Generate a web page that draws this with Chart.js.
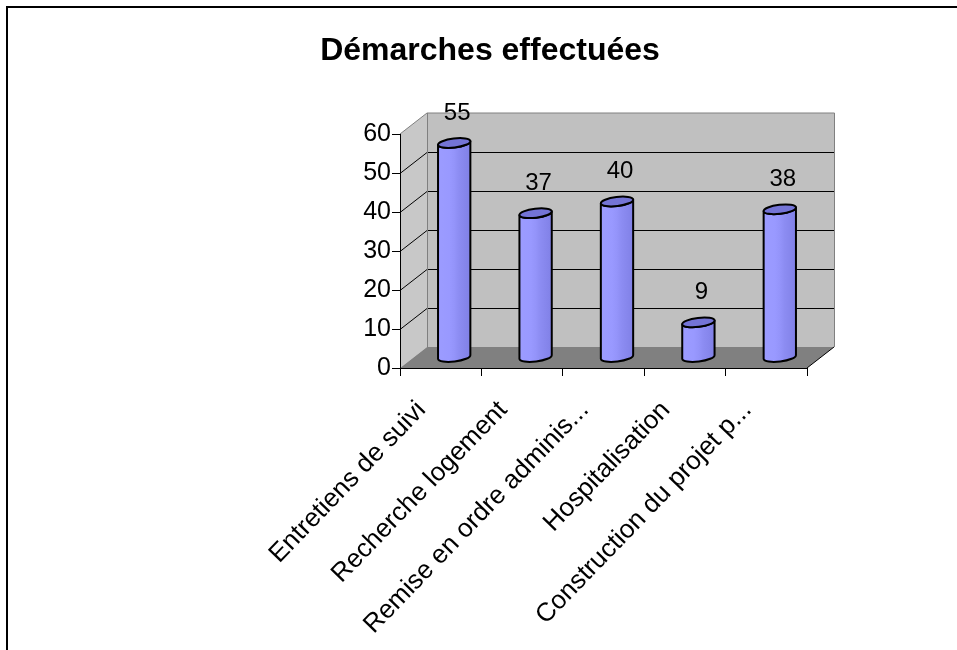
<!DOCTYPE html>
<html>
<head>
<meta charset="utf-8">
<script src="https://cdn.jsdelivr.net/npm/chart.js@4.4.0/dist/chart.umd.min.js"></script>
<style>
  html, body { margin: 0; padding: 0; background: #ffffff; }
  canvas { display: block; }
</style>
</head>
<body>
<canvas id="chart" width="957" height="650"></canvas>
<script>
// Data
const categories = [
  "Entretiens de suivi",
  "Recherche logement",
  "Remise en ordre adminis...",
  "Hospitalisation",
  "Construction du projet p..."
];
const demarches = [55, 37, 40, 9, 38];
const yTicks = [0, 10, 20, 30, 40, 50, 60];
const chartTitle = "Démarches effectuées";

// Oblique depth of the 3D box (pixels)
const DX = 27, DY = -21;
const FONT = "'Liberation Sans', Arial, sans-serif";

function poly(ctx, pts) {
  ctx.beginPath();
  ctx.moveTo(pts[0][0], pts[0][1]);
  for (let i = 1; i < pts.length; i++) ctx.lineTo(pts[i][0], pts[i][1]);
  ctx.closePath();
}

const scene3d = {
  id: 'scene3d',
  beforeDraw(chart) {
    const { ctx, chartArea: a, scales: { y } } = chart;
    const L = a.left, R = a.right;
    const y0 = y.getPixelForValue(y.min);
    const yT = y.getPixelForValue(y.max);
    ctx.save();

    // outer frame
    ctx.strokeStyle = '#000';
    ctx.lineWidth = 2;
    ctx.beginPath();
    ctx.moveTo(7, 700); ctx.lineTo(7, 7); ctx.lineTo(1000, 7);
    ctx.stroke();

    // back wall
    ctx.fillStyle = '#C0C0C0';
    poly(ctx, [[L + DX, yT + DY], [R + DX, yT + DY], [R + DX, y0 + DY], [L + DX, y0 + DY]]);
    ctx.fill();
    // side wall
    ctx.fillStyle = '#C8C8C8';
    poly(ctx, [[L, y0], [L, yT], [L + DX, yT + DY], [L + DX, y0 + DY]]);
    ctx.fill();
    // floor
    ctx.fillStyle = '#808080';
    poly(ctx, [[L, y0], [R, y0], [R + DX, y0 + DY], [L + DX, y0 + DY]]);
    ctx.fill();

    // gridlines on back wall and side wall
    ctx.lineWidth = 1;
    ctx.strokeStyle = '#000';
    y.ticks.forEach(t => {
      if (t.value <= y.min || t.value >= y.max) return;
      const py = Math.round(y.getPixelForValue(t.value)) + 0.5;
      ctx.beginPath();
      ctx.moveTo(L, py);
      ctx.lineTo(L + DX, py + DY);
      ctx.lineTo(R + DX, py + DY);
      ctx.stroke();
    });

    // wall edges
    ctx.strokeStyle = '#808080';
    ctx.beginPath();
    ctx.moveTo(L, yT);
    ctx.lineTo(L + DX, yT + DY);
    ctx.lineTo(R + DX + 0.5, yT + DY);
    ctx.lineTo(R + DX + 0.5, y0 + DY);
    ctx.moveTo(L + DX + 0.5, yT + DY);
    ctx.lineTo(L + DX + 0.5, y0 + DY);
    ctx.stroke();

    // floor edges
    ctx.strokeStyle = '#000';
    ctx.beginPath();
    ctx.moveTo(R, y0);
    ctx.lineTo(R + DX, y0 + DY);
    ctx.stroke();
    ctx.restore();
  },
  afterDatasetsDraw(chart) {
    const { ctx } = chart;
    const meta = chart.getDatasetMeta(0);
    const values = chart.data.datasets[0].data;
    ctx.save();
    meta.data.forEach((el, i) => {
      const cx = el.x + DX / 2;
      const top = el.y + DY / 2;
      const bot = el.base + DY / 2;
      const r = el.width / 2;
      const ry = 4.5;
      const rot = -0.12;

      const g = ctx.createLinearGradient(cx - r, 0, cx + r, 0);
      g.addColorStop(0, '#9C9CFF');
      g.addColorStop(0.35, '#9999FF');
      g.addColorStop(0.5, '#9494FA');
      g.addColorStop(0.65, '#8C8CF2');
      g.addColorStop(1, '#8080E6');

      // body
      ctx.beginPath();
      ctx.ellipse(cx, bot, r, ry, rot, Math.PI, 0, true);
      ctx.ellipse(cx, top, r, ry, rot, 0, Math.PI, false);
      ctx.closePath();
      ctx.fillStyle = g;
      ctx.fill();
      ctx.lineWidth = 2;
      ctx.lineJoin = 'round';
      ctx.strokeStyle = '#000';
      ctx.stroke();

      // top cap
      ctx.beginPath();
      ctx.ellipse(cx, top, r, ry, rot, 0, Math.PI * 2);
      ctx.fillStyle = '#7474D6';
      ctx.fill();
      ctx.stroke();

      // value label
      ctx.fillStyle = '#000';
      ctx.font = '24px ' + FONT;
      ctx.textAlign = 'center';
      ctx.textBaseline = 'middle';
      ctx.fillText(String(values[i]), cx + 3, top - 30);
    });
    ctx.restore();
  }
};

new Chart(document.getElementById('chart'), {
  type: 'bar',
  data: {
    labels: categories,
    datasets: [{
      data: demarches,
      backgroundColor: 'rgba(0,0,0,0)',
      borderWidth: 0,
      barPercentage: 0.4,
      categoryPercentage: 1
    }]
  },
  options: {
    responsive: false,
    animation: false,
    layout: { padding: { left: 173, right: 150, top: 0, bottom: 0 } },
    plugins: {
      legend: { display: false },
      tooltip: { enabled: false },
      title: {
        display: true,
        text: chartTitle,
        color: '#000',
        font: { family: FONT, size: 32, weight: 'bold' },
        padding: { top: 32, bottom: 63.6 }
      }
    },
    scales: {
      x: {
        offset: true,
        grid: { display: true, drawOnChartArea: false, offset: true, tickLength: 8, color: '#000', lineWidth: 1 },
        border: { display: true, color: '#000', width: 1 },
        ticks: {
          autoSkip: false, minRotation: 46, maxRotation: 46,
          color: '#000', padding: 19, labelOffset: -19,
          font: { family: FONT, size: 26 }
        },
        afterFit(s) { s.height = 650 - 368; }
      },
      y: {
        min: 0, max: 60,
        afterBuildTicks(s) { s.ticks = yTicks.map(v => ({ value: v })); },
        grid: { display: true, drawOnChartArea: false, tickLength: 8, color: '#000' },
        border: { display: true, color: '#000', width: 1 },
        ticks: { color: '#000', padding: 1, font: { family: FONT, size: 25 } },
        afterFit(s) { s.width = 400 - 173; }
      }
    }
  },
  plugins: [scene3d]
});
</script>
</body>
</html>
